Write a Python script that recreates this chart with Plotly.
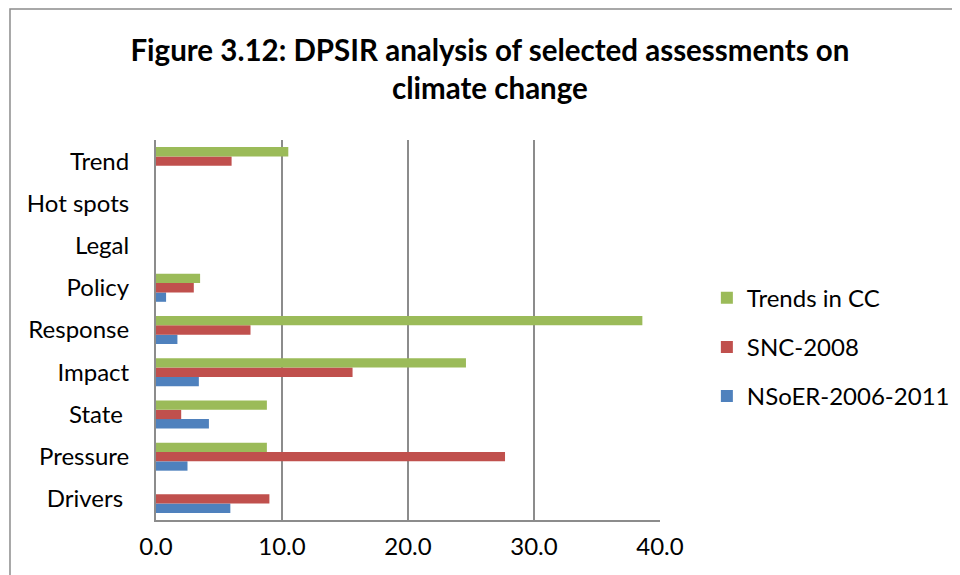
import plotly.graph_objects as go

# categories bottom-to-top, as drawn on the y axis
categories = ['Drivers ', 'Pressure', 'State ', 'Impact', 'Response',
              'Policy', 'Legal', 'Hot spots', 'Trend']

nsoer = [5.9, 2.5, 4.2, 3.4, 1.7, 0.8, 0, 0, 0]
snc = [9.0, 27.7, 2.0, 15.6, 7.5, 3.0, 0, 0, 6.0]
trends = [0, 8.8, 8.8, 24.6, 38.6, 3.5, 0, 0, 10.5]

x_ticks = [0, 10, 20, 30, 40]
x_tick_labels = ['0.0', '10.0', '20.0', '30.0', '40.0']

series = [
    ('NSoER-2006-2011', nsoer, '#4F81BD', 3),
    ('SNC-2008', snc, '#C0504D', 2),
    ('Trends in CC', trends, '#9BBB59', 1),
]

fig = go.Figure()
for name, vals, color, rank in series:
    fig.add_trace(go.Bar(
        y=categories, x=vals, name=name, orientation='h',
        marker=dict(color=color, line=dict(width=0)),
        legendgroup=name, legendrank=rank,
    ))

font = 'Lato, Carlito, Calibri, sans-serif'

fig.update_layout(
    width=960, height=575,
    margin=dict(l=148, r=308, t=132, b=63),
    paper_bgcolor='white', plot_bgcolor='white',
    barmode='group', bargap=0.336, bargroupgap=0,
    font=dict(family=font, size=24, color='black'),
    title=dict(
        text='<b>Figure 3.12: DPSIR analysis of selected assessments on<br>climate change</b>',
        x=0.502, xanchor='center', xref='container',
        y=0.908, yanchor='middle', yref='container',
        font=dict(family=font, size=29.5, color='black'),
    ),
    legend=dict(
        x=1.093, xanchor='left', y=0.455, yanchor='middle',
        traceorder='grouped', tracegroupgap=15,
        font=dict(family=font, size=24, color='black'),
        bgcolor='rgba(0,0,0,0)',
    ),
    showlegend=True,
    shapes=[dict(
        type='rect', xref='paper', yref='paper',
        x0=-0.2897, x1=1.65, y0=-0.25, y1=1.345,
        line=dict(color='#8C8C8C', width=1.5), fillcolor='rgba(0,0,0,0)',
        layer='below',
    )],
)

fig.update_xaxes(
    range=[0, 40], tickvals=x_ticks, ticktext=x_tick_labels,
    showgrid=True, gridcolor='#8C8C8C', gridwidth=2,
    showline=True, linecolor='#8C8C8C', linewidth=2,
    zeroline=False, ticks='', ticklabelstandoff=4,
    tickfont=dict(family=font, size=24, color='black'),
    fixedrange=True,
)
fig.update_yaxes(
    categoryorder='array', categoryarray=categories,
    showgrid=False, showline=True, linecolor='#8C8C8C', linewidth=2,
    zeroline=False, ticks='', ticklabelstandoff=20,
    tickfont=dict(family=font, size=24, color='black'),
    fixedrange=True,
)

fig.write_html('out.html')
